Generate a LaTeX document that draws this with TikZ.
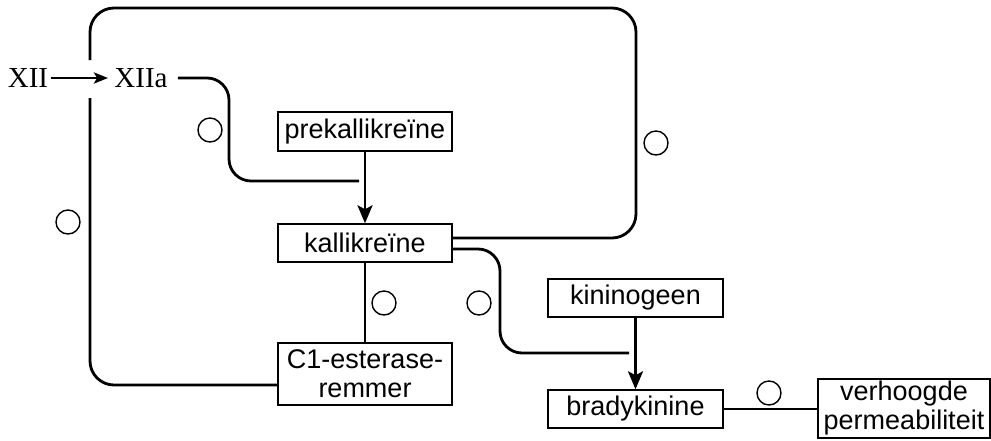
\documentclass[tikz,border=0pt]{standalone}
\usepackage{fontspec}
\setmainfont{Liberation Sans}
\newfontfamily\serifxii{Liberation Serif}
\usetikzlibrary{arrows.meta}
\begin{document}
\begin{tikzpicture}[x=0.5pt,y=-0.5pt,
  box/.style={draw,line width=0.7pt,inner sep=0pt,align=center,
    font=\fontsize{13.5}{14.5}\selectfont},
  lbl/.style={inner sep=0pt,font=\serifxii\fontsize{14.5}{16}\selectfont},
  conn/.style={line width=1.4pt},
  arr/.style={line width=1.4pt,-{Stealth[length=9pt,width=7.5pt,inset=2pt]}},
  arrs/.style={line width=1.4pt,-{Stealth[length=7pt,width=5.5pt,inset=1.5pt]}},
  inh/.style={draw,circle,line width=0.7pt,minimum size=12pt,inner sep=0pt}]
\useasboundingbox (0,0) rectangle (991,440);
% boxes
\node[box,minimum width=87pt,minimum height=19.5pt] (pre) at (365,131.5) {prekallikreïne};
\node[box,minimum width=87pt,minimum height=19pt] (kal) at (365,243) {kallikreïne};
\node[box,minimum width=87pt,minimum height=31pt] (c1) at (365,374) {C1-esterase-\\remmer};
\node[box,minimum width=87.5pt,minimum height=19pt] (kin) at (635.5,298) {kininogeen};
\node[box,minimum width=87.5pt,minimum height=19pt] (bra) at (635.5,409) {bradykinine};
\node[box,minimum width=86pt,minimum height=29.5pt] (ver) at (904,408.5) {verhoogde\\permeabiliteit};
\node[lbl] (xii) at (28,78) {XII};
\node[lbl] (xiia) at (141,78) {XIIa};
% inhibition circles
\node[inh] (o1) at (210,130) {};
\node[inh] (o2) at (68,222) {};
\node[inh] (o3) at (656,143) {};
\node[inh] (o4) at (384,303) {};
\node[inh] (o5) at (479,303) {};
\node[inh] (o6) at (769,393) {};
% coordinates
\coordinate (gapTop) at (90,60);
\coordinate (gapBot) at (90,98);
\coordinate (xend) at (359,181);
\coordinate (kend) at (629,353);
% connectors
\draw[arrs] (xii.east) ++(2,0) -- ([xshift=-3pt]xiia.west);
\draw[conn,rounded corners=12pt] ([yshift=2.5pt]kal.east) -| (636,8) -| (gapTop);
\draw[conn,rounded corners=12pt] (gapBot) |- ([yshift=-5.5pt]c1.west);
\draw[conn,rounded corners=11pt] ([xshift=5pt]xiia.east) -| (229,130) |- (xend);
\draw[arr] (pre.south) -- (kal.north);
\draw[conn] (kal.south) -- (c1.north);
\draw[conn,rounded corners=11pt] ([yshift=-3pt]kal.east) -| (500,300) |- (kend);
\draw[arr] (kin.south) -- (bra.north);
\draw[conn] (bra.east) -- (bra.east -| ver.west);
\end{tikzpicture}
\end{document}
